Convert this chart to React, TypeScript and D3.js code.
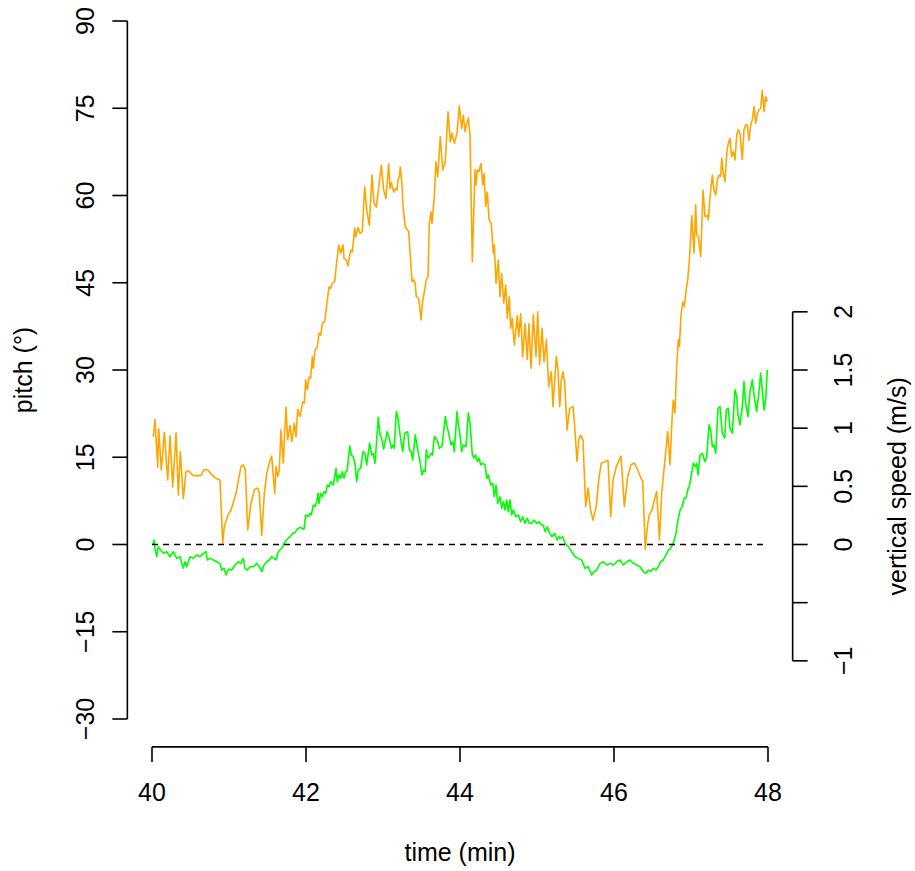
import React from 'react';
import * as d3 from 'd3';

const W = 915;
const H = 871;

// Axis ticks
const timeTicks = [40, 42, 44, 46, 48];
const pitchTicks = [-30, -15, 0, 15, 30, 45, 60, 75, 90];
const speedTicks = [-1, -0.5, 0, 0.5, 1, 1.5, 2];
const speedTickLabels = ['−1', '', '0', '0.5', '1', '1.5', '2'];

// Pitch series (minutes, degrees)
const pitchTime = [
  40.017, 40.039, 40.074, 40.087, 40.121, 40.16, 40.204, 40.234, 40.269, 40.312,
  40.342, 40.368, 40.406, 40.442, 40.468, 40.529, 40.594, 40.636, 40.679, 40.723,
  40.788, 40.853, 40.883, 40.918, 40.939, 40.987,
  41.026, 41.091, 41.156, 41.186, 41.212, 41.243, 41.286, 41.329, 41.373, 41.394,
  41.425, 41.459, 41.49, 41.523, 41.554, 41.594, 41.61, 41.632, 41.653, 41.675,
  41.705, 41.74, 41.762, 41.792, 41.814, 41.848, 41.87, 41.892, 41.922, 41.957, 41.978,
  41.996, 42.017, 42.039, 42.061, 42.082, 42.095, 42.117, 42.147, 42.169, 42.191,
  42.212, 42.243, 42.269, 42.299, 42.321, 42.342, 42.373, 42.394, 42.425, 42.451,
  42.481, 42.494, 42.523, 42.545, 42.581, 42.601, 42.632, 42.645, 42.675, 42.701,
  42.731, 42.762, 42.788, 42.822, 42.857, 42.883, 42.913, 42.948, 42.978,
  43.009, 43.039, 43.074, 43.091, 43.108, 43.139, 43.16, 43.182, 43.195, 43.212,
  43.225, 43.247, 43.26, 43.29, 43.334, 43.355, 43.377, 43.399, 43.419, 43.432,
  43.464, 43.494, 43.516, 43.542, 43.562, 43.584, 43.601, 43.623, 43.636, 43.666,
  43.688, 43.71, 43.744, 43.775, 43.809, 43.844, 43.874, 43.896, 43.926, 43.961, 43.991,
  44.022, 44.043, 44.065, 44.087, 44.108, 44.13, 44.16, 44.195, 44.208, 44.225,
  44.247, 44.273, 44.295, 44.312, 44.334, 44.355, 44.377, 44.406, 44.432, 44.445,
  44.468, 44.497, 44.519, 44.542, 44.568, 44.594, 44.614, 44.64, 44.658, 44.679,
  44.705, 44.744, 44.762, 44.788, 44.814, 44.844, 44.874, 44.896, 44.922, 44.952,
  44.987, 45.009,
  45.035, 45.065, 45.091, 45.121, 45.152, 45.186, 45.208, 45.23, 45.251, 45.273,
  45.295, 45.316, 45.338, 45.36, 45.39, 45.425, 45.468, 45.49, 45.519, 45.542,
  45.567, 45.597, 45.632, 45.662, 45.697, 45.727, 45.77, 45.801, 45.835, 45.879,
  45.922, 45.957, 45.987, 46.03,
  46.091, 46.134, 46.178, 46.221, 46.264, 46.308, 46.351, 46.373, 46.406, 46.438,
  46.458, 46.494, 46.523, 46.555, 46.59, 46.619, 46.653, 46.697, 46.727, 46.753,
  46.77, 46.792, 46.814, 46.835, 46.849, 46.87, 46.892, 46.913, 46.935, 46.957,
  46.98, 47.01,
  47.039, 47.061, 47.074, 47.095, 47.126, 47.156, 47.182, 47.212, 47.225, 47.247,
  47.277, 47.299, 47.321, 47.342, 47.364, 47.386, 47.399, 47.419, 47.442, 47.464,
  47.484, 47.506, 47.528, 47.549, 47.571, 47.594, 47.614, 47.636, 47.666, 47.688,
  47.71, 47.731, 47.753, 47.775, 47.796, 47.818, 47.84, 47.861, 47.883, 47.905,
  47.926, 47.948, 47.97, 47.991,
];
const pitchDeg = [
  18.5, 21.5, 13.3, 19.9, 12.8, 19.3, 11.1, 18.7, 9.9, 19.2,
  8.5, 16.0, 7.9, 12.5, 12.7, 11.9, 11.8, 11.9, 12.9, 12.8,
  11.8, 11.2, 11.1, 0.2, 3.1, 5.1,
  5.9, 8.8, 13.4, 13.7, 12.8, 2.5, 7.1, 9.4, 9.7, 8.8,
  1.6, 8.8, 12.2, 14.0, 15.2, 8.8, 13.4, 11.7, 12.8, 19.7,
  14.0, 23.6, 18.0, 20.5, 17.7, 20.8, 18.5, 23.2, 22.0, 24.5, 24.3,
  28.3, 26.6, 28.8, 28.6, 32.3, 30.3, 33.4, 34.0, 36.3, 36.0,
  38.0, 38.3, 41.2, 44.3, 44.0, 44.9, 45.2, 48.0, 51.5, 50.1,
  51.5, 49.2, 48.9, 47.9, 50.6, 50.3, 54.4, 52.9, 54.5, 53.5,
  53.8, 61.5, 57.5, 54.9, 63.5, 58.7, 58.0, 61.8, 65.2,
  60.9, 59.5, 65.4, 61.2, 62.2, 60.6, 61.2, 60.9, 62.7, 63.2,
  64.9, 61.8, 58.1, 54.6, 53.8, 49.5, 45.2, 45.5, 44.9, 42.6,
  42.3, 38.6, 42.0, 43.8, 45.6, 46.0, 55.2, 57.2, 55.2, 59.8,
  65.8, 63.2, 70.1, 64.4, 65.8, 74.4, 69.2, 70.7, 69.0, 70.7, 75.4,
  71.5, 73.8, 71.0, 72.4, 73.3, 70.4, 48.6, 64.4, 61.8, 64.4,
  64.1, 65.5, 61.8, 63.8, 58.1, 60.6, 55.8, 55.2, 50.1, 51.5,
  44.9, 48.9, 42.6, 46.6, 41.5, 44.6, 38.9, 42.6, 37.2, 38.9,
  34.3, 39.3, 35.7, 39.7, 32.3, 38.0, 31.8, 38.0, 30.3, 39.5,
  32.3, 40.0,
  30.9, 37.2, 31.4, 35.2, 27.1, 29.7, 23.7, 28.3, 32.3, 30.0,
  23.7, 28.3, 29.7, 27.7, 19.7, 23.4, 23.7, 20.3, 14.3, 18.0,
  18.8, 18.0, 6.5, 9.7, 5.9, 4.2, 6.5, 11.1, 14.0, 14.2,
  14.5, 4.8, 11.1, 13.4,
  15.2, 6.5, 11.7, 13.7, 14.0, 12.8, 11.4, 10.8, -0.8, 3.6,
  5.1, 5.9, 7.6, 9.1, 0.8, 8.8, 13.4, 19.4, 13.7, 21.4,
  24.8, 22.6, 30.6, 35.2, 34.0, 39.5, 41.7, 40.9, 43.5, 45.5,
  49.0, 56.5,
  50.1, 58.4, 53.2, 52.9, 49.5, 60.9, 56.4, 56.6, 55.8, 59.8,
  63.5, 60.9, 60.1, 62.7, 63.5, 63.3, 66.4, 63.8, 62.4, 67.3,
  69.0, 69.8, 66.7, 67.5, 66.1, 70.4, 71.3, 70.7, 66.2, 71.3,
  72.1, 72.1, 69.5, 72.1, 73.0, 75.3, 72.4, 74.1, 74.7, 75.0,
  78.1, 74.4, 77.0, 76.1,
];

// Vertical speed series (minutes, m/s)
const speedTime = [
  40.013, 40.026, 40.039, 40.061, 40.082, 40.113, 40.147, 40.191, 40.234, 40.277,
  40.321, 40.364, 40.406, 40.429, 40.451, 40.494, 40.536, 40.581, 40.623, 40.666,
  40.701, 40.718, 40.753, 40.796, 40.84, 40.883, 40.905, 40.935, 40.961, 40.991,
  41.035, 41.078, 41.121, 41.152, 41.186, 41.208, 41.238, 41.273, 41.316, 41.36,
  41.394, 41.425, 41.455, 41.49, 41.523, 41.555, 41.584, 41.61, 41.64, 41.671,
  41.697, 41.727, 41.757, 41.792, 41.827, 41.857, 41.887, 41.922, 41.974,
  41.996, 42.026, 42.052, 42.069, 42.095, 42.117, 42.139, 42.156, 42.169, 42.191,
  42.212, 42.234, 42.256, 42.277, 42.299, 42.321, 42.355, 42.39, 42.406, 42.429,
  42.451, 42.471, 42.494, 42.516, 42.536, 42.568, 42.588, 42.614, 42.636, 42.658,
  42.679, 42.71, 42.74, 42.766, 42.788, 42.827, 42.853, 42.874, 42.896, 42.939,
  42.961, 42.978,
  43.009, 43.039, 43.052, 43.082, 43.108, 43.13, 43.147, 43.173, 43.195, 43.225,
  43.256, 43.282, 43.321, 43.342, 43.364, 43.386, 43.419, 43.451, 43.477, 43.506,
  43.529, 43.549, 43.562, 43.581, 43.601, 43.627, 43.645, 43.666, 43.688, 43.71,
  43.731, 43.766, 43.809, 43.831, 43.853, 43.883, 43.909, 43.926, 43.961, 43.983,
  44.0, 44.022, 44.043, 44.078, 44.108, 44.13, 44.16, 44.182, 44.204, 44.225,
  44.247, 44.269, 44.295, 44.325, 44.347, 44.368, 44.399, 44.425, 44.445, 44.468,
  44.49, 44.519, 44.542, 44.562, 44.584, 44.606, 44.627, 44.649, 44.671, 44.692,
  44.723, 44.757, 44.788, 44.814, 44.844, 44.874, 44.9, 44.931, 44.961, 44.996,
  45.026, 45.052,
  45.078, 45.108, 45.134, 45.165, 45.195, 45.23, 45.26, 45.286,
  45.299, 45.334, 45.364, 45.407, 45.451, 45.494, 45.536, 45.58, 45.623, 45.666,
  45.71, 45.74, 45.775, 45.818, 45.861, 45.905, 45.948, 45.991, 46.035, 46.078,
  46.121, 46.165, 46.208, 46.251, 46.295, 46.338, 46.381, 46.416, 46.446, 46.477,
  46.51, 46.545, 46.575, 46.606, 46.64, 46.675, 46.705, 46.736, 46.77, 46.805,
  46.831, 46.861, 46.883, 46.913, 46.935, 46.957, 46.978, 47.0, 47.03,
  47.061, 47.074, 47.091, 47.117, 47.147, 47.182, 47.204, 47.234, 47.256, 47.277,
  47.299, 47.321, 47.351, 47.377, 47.406, 47.438, 47.458, 47.484, 47.506, 47.536,
  47.571, 47.594, 47.61, 47.636, 47.666, 47.688, 47.71, 47.74, 47.766, 47.796,
  47.818, 47.853, 47.883, 47.905, 47.926, 47.948, 47.97, 47.991,
];
const speedMs = [
  0.0, 0.039, -0.033, -0.105, -0.019, -0.047, -0.076, -0.062, -0.105, -0.062,
  -0.119, -0.105, -0.205, -0.148, -0.191, -0.105, -0.119, -0.09, -0.105, -0.076,
  -0.062, -0.133, -0.119, -0.133, -0.148, -0.162, -0.219, -0.205, -0.262, -0.213,
  -0.219, -0.176, -0.148, -0.162, -0.119, -0.205, -0.219, -0.191, -0.191, -0.162,
  -0.191, -0.234, -0.176, -0.148, -0.133, -0.105, -0.119, -0.133, -0.062, -0.041,
  -0.019, 0.024, 0.045, 0.067, 0.096, 0.102, 0.131, 0.148, 0.131,
  0.254, 0.239, 0.268, 0.254, 0.34, 0.325, 0.368, 0.44, 0.354, 0.44,
  0.411, 0.454, 0.44, 0.512, 0.497, 0.54, 0.512, 0.655, 0.54, 0.598,
  0.569, 0.626, 0.569, 0.626, 0.641, 0.847, 0.77, 0.755, 0.698, 0.54,
  0.641, 0.655, 0.798, 0.784, 0.684, 0.871, 0.77, 0.784, 0.698, 1.094,
  0.942, 0.927,
  0.82, 0.914, 0.97, 0.914, 0.827, 0.856, 0.827, 1.142, 1.086, 0.927,
  0.798, 0.957, 0.97, 0.813, 0.798, 0.727, 0.942, 0.813, 0.727, 0.598,
  0.641, 0.626, 0.813, 0.742, 0.755, 0.784, 0.77, 0.927, 0.914, 0.884,
  0.827, 0.841, 1.099, 1.013, 0.957, 0.856, 0.884, 0.798, 1.142, 1.013,
  0.942, 0.798, 0.856, 0.841, 1.129, 1.043, 0.77, 0.742, 0.77, 0.712,
  0.742, 0.684, 0.698, 0.684, 0.569, 0.598, 0.512, 0.526, 0.411, 0.512,
  0.354, 0.411, 0.311, 0.368, 0.297, 0.383, 0.282, 0.383, 0.254, 0.297,
  0.239, 0.254, 0.196, 0.239, 0.182, 0.225, 0.182, 0.182, 0.211, 0.182,
  0.196, 0.168,
  0.168, 0.11, 0.153, 0.096, 0.067, 0.096, 0.039, 0.067,
  0.053, 0.067, 0.01, -0.019, -0.062, -0.105, -0.119, -0.133, -0.205, -0.191,
  -0.262, -0.234, -0.219, -0.162, -0.148, -0.176, -0.162, -0.176, -0.148, -0.133,
  -0.176, -0.148, -0.133, -0.162, -0.176, -0.191, -0.234, -0.248, -0.219, -0.234,
  -0.205, -0.219, -0.191, -0.148, -0.133, -0.09, -0.047, -0.033, 0.01, 0.096,
  0.21, 0.3, 0.32, 0.4, 0.4, 0.47, 0.5, 0.58, 0.7,
  0.669, 0.698, 0.598, 0.77, 0.784, 0.712, 0.755, 1.028, 0.985, 0.841,
  0.856, 0.784, 1.172, 1.185, 0.957, 0.914, 1.157, 1.172, 1.0, 0.957,
  1.329, 1.271, 1.114, 1.028, 1.185, 1.4, 1.215, 1.099, 1.314, 1.415,
  1.286, 1.142, 1.314, 1.473, 1.329, 1.157, 1.243, 1.501,
];

const FONT = '"Liberation Sans", Arial, Helvetica, sans-serif';
const FS = 25;
const LW = 1.6;
const TICK = 15;

const fmt = (v: number) => (v < 0 ? '−' + Math.abs(v) : String(v));

export default function App() {
  const x = d3.scaleLinear().domain([40, 48]).range([152, 768]);
  const y = d3.scaleLinear().domain([-30, 90]).range([719, 21]);
  // vertical speed shares the pitch frame: 1 m/s spans 20 degrees
  const y2 = d3.scaleLinear().domain([-1, 2]).range([y(-20), y(40)]);

  const plotLeft = x(39.68);
  const plotRight = x(48.32);
  const plotBottom = y(-34.8);

  const pitchPath = d3
    .line<number>()
    .x((_, i) => x(pitchTime[i]))
    .y((d) => y(d))(pitchDeg) as string;
  const speedPath = d3
    .line<number>()
    .x((_, i) => x(speedTime[i]))
    .y((d) => y2(d))(speedMs) as string;

  const [t0, t1] = d3.extent(timeTicks) as [number, number];
  const [p0, p1] = d3.extent(pitchTicks) as [number, number];
  const [s0, s1] = d3.extent(speedTicks) as [number, number];

  return (
    <svg
      width={W}
      height={H}
      viewBox={`0 0 ${W} ${H}`}
      style={{ position: 'absolute', left: 0, top: 0, display: 'block', background: '#fff' }}
      fontFamily={FONT}
      fontSize={FS}
    >
      <rect width={W} height={H} fill="#fff" />

      {/* series */}
      <path d={pitchPath} fill="none" stroke="#FFA500" strokeWidth={LW} strokeLinejoin="round" />
      <path d={speedPath} fill="none" stroke="#00FF00" strokeWidth={LW} strokeLinejoin="round" />
      <line
        x1={x(40)}
        x2={x(48)}
        y1={y(0)}
        y2={y(0)}
        stroke="#000"
        strokeWidth={LW}
        strokeDasharray="6,5"
      />

      {/* bottom axis */}
      <g stroke="#000" strokeWidth={LW} fill="none">
        <line x1={x(t0)} x2={x(t1)} y1={plotBottom} y2={plotBottom} />
        {timeTicks.map((t) => (
          <line key={t} x1={x(t)} x2={x(t)} y1={plotBottom} y2={plotBottom + TICK} />
        ))}
      </g>
      {timeTicks.map((t) => (
        <text key={t} x={x(t)} y={801} textAnchor="middle" fill="#000">
          {fmt(t)}
        </text>
      ))}
      <text x={(x(40) + x(48)) / 2} y={861} textAnchor="middle" fill="#000">
        time (min)
      </text>

      {/* left axis */}
      <g stroke="#000" strokeWidth={LW} fill="none">
        <line x1={plotLeft} x2={plotLeft} y1={y(p0)} y2={y(p1)} />
        {pitchTicks.map((p) => (
          <line key={p} x1={plotLeft} x2={plotLeft - TICK} y1={y(p)} y2={y(p)} />
        ))}
      </g>
      {pitchTicks.map((p) => (
        <text
          key={p}
          transform={`translate(93.5,${y(p)}) rotate(-90)`}
          textAnchor="middle"
          fill="#000"
        >
          {fmt(p)}
        </text>
      ))}
      <text
        transform={`translate(32,${(y(p0) + y(p1)) / 2}) rotate(-90)`}
        textAnchor="middle"
        fill="#000"
      >
        pitch (°)
      </text>

      {/* right axis */}
      <g stroke="#000" strokeWidth={LW} fill="none">
        <line x1={plotRight} x2={plotRight} y1={y2(s0)} y2={y2(s1)} />
        {speedTicks.map((s) => (
          <line key={s} x1={plotRight} x2={plotRight + TICK} y1={y2(s)} y2={y2(s)} />
        ))}
      </g>
      {speedTicks.map((s, i) =>
        speedTickLabels[i] ? (
          <text
            key={s}
            transform={`translate(852,${y2(s)}) rotate(-90)`}
            textAnchor="middle"
            fill="#000"
          >
            {speedTickLabels[i]}
          </text>
        ) : null
      )}
      <text
        transform={`translate(906,${(y2(s0) + y2(s1)) / 2}) rotate(-90)`}
        textAnchor="middle"
        fill="#000"
      >
        vertical speed (m/s)
      </text>
    </svg>
  );
}
